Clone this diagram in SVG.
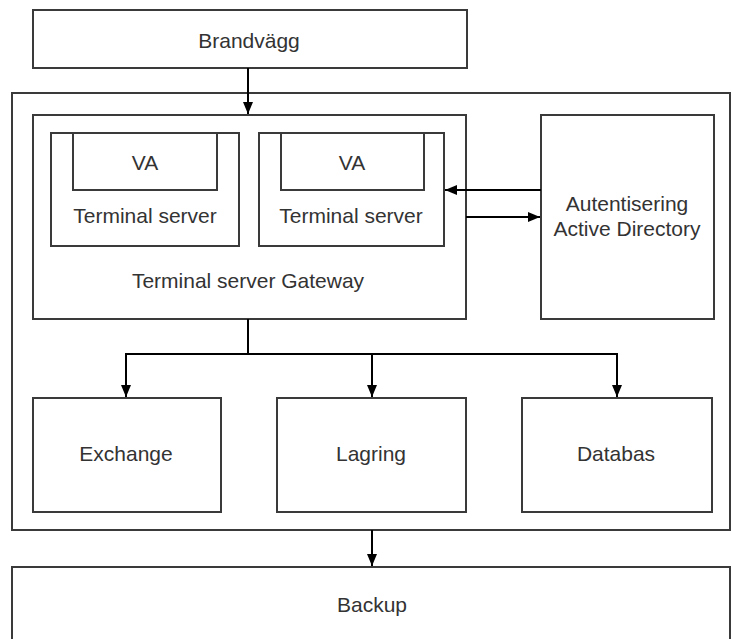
<svg xmlns="http://www.w3.org/2000/svg" width="732" height="639" viewBox="0 0 732 639">
<defs>
<marker id="ah" markerWidth="12" markerHeight="10" refX="12" refY="5" orient="auto" markerUnits="userSpaceOnUse">
<path d="M0,0 L12,5 L0,10 Z" fill="#000"/>
</marker>
<style>
.box{fill:#fff;stroke:#3a3a3a;stroke-width:2}
.t{font-family:"Liberation Sans",Arial,sans-serif;font-size:21px;fill:#333;text-anchor:middle}
.c{fill:none;stroke:#000;stroke-width:2}
</style>
</defs>
<rect width="732" height="639" fill="#fff"/>
<g id="brandvagg"><rect class="box" x="33" y="10" width="434" height="58"/><text class="t" x="249" y="48">Brandvägg</text></g>
<g id="outer"><rect class="box" x="12" y="93" width="718" height="437"/></g>
<g id="gateway"><rect class="box" x="33" y="115" width="433" height="204"/><text class="t" x="248" y="288">Terminal server Gateway</text></g>
<g id="ts1"><rect class="box" x="51" y="133" width="188" height="113"/><text class="t" x="145" y="223">Terminal server</text></g>
<g id="va1"><rect class="box" x="73" y="133" width="144" height="57"/><text class="t" x="145" y="170">VA</text></g>
<g id="ts2"><rect class="box" x="259" y="133" width="185" height="113"/><text class="t" x="351" y="223">Terminal server</text></g>
<g id="va2"><rect class="box" x="281" y="133" width="143" height="57"/><text class="t" x="352" y="170">VA</text></g>
<g id="auth"><rect class="box" x="541" y="115" width="173" height="204"/><text class="t" x="627" y="211">Autentisering</text><text class="t" x="627" y="236">Active Directory</text></g>
<g id="exchange"><rect class="box" x="33" y="398" width="188" height="114"/><text class="t" x="126" y="461">Exchange</text></g>
<g id="lagring"><rect class="box" x="277" y="398" width="189" height="114"/><text class="t" x="371" y="461">Lagring</text></g>
<g id="databas"><rect class="box" x="522" y="398" width="190" height="114"/><text class="t" x="616" y="461">Databas</text></g>
<g id="backup"><rect class="box" x="12" y="567" width="718" height="90"/><text class="t" x="372" y="612">Backup</text></g>
<g id="connectors">
<path class="c" d="M248,68 V114" marker-end="url(#ah)"/>
<path class="c" d="M541,190 H445" marker-end="url(#ah)"/>
<path class="c" d="M466,217 H540" marker-end="url(#ah)"/>
<path class="c" d="M248,319 V354 H126 V397" marker-end="url(#ah)"/>
<path class="c" d="M248,354 H372 V397" marker-end="url(#ah)"/>
<path class="c" d="M372,354 H617 V397" marker-end="url(#ah)"/>
<path class="c" d="M372,530 V566" marker-end="url(#ah)"/>
</g>
</svg>
